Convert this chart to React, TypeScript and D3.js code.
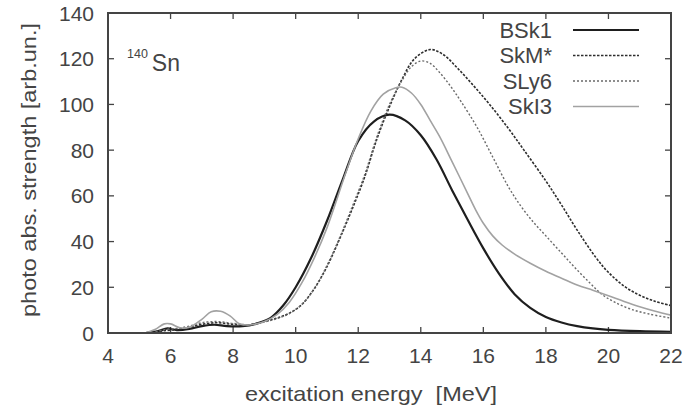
import React from "react";
import * as d3 from "d3";

// [excitation energy (MeV), strength (arb. un.)]
const bsk1: [number, number][] = [
  [5.2, 0], [5.6, 0.8], [5.9, 2.0], [6.2, 1.3], [6.6, 1.8], [7.0, 3.0], [7.4, 3.6],
  [7.8, 3.0], [8.3, 3.0], [8.8, 4.3], [9.2, 6.6], [9.6, 12], [10.0, 20], [10.5, 33],
  [11.0, 49], [11.5, 67], [12.0, 84], [12.5, 92.5], [13.0, 95.5], [13.5, 93],
  [14.0, 86.5], [14.5, 76], [15.0, 62.5], [15.5, 49.5], [16.0, 37], [16.5, 26],
  [17.0, 17], [17.5, 11], [18.0, 7], [18.5, 4.6], [19.0, 3.0], [19.5, 2.0],
  [20.0, 1.4], [21.0, 0.8], [22.0, 0.5],
];

const skmStar: [number, number][] = [
  [5.4, 0], [5.8, 1.0], [6.2, 1.5], [6.6, 2.5], [7.0, 3.8], [7.5, 4.5], [8.0, 3.8],
  [8.5, 3.5], [9.0, 5], [9.4, 6.5], [9.8, 8.7], [10.2, 12.5], [10.6, 19.5],
  [11.0, 29], [11.4, 41], [11.8, 54], [12.2, 68], [12.6, 85], [13.0, 99],
  [13.4, 111], [13.8, 120], [14.3, 124], [14.7, 122], [15.2, 115.5], [15.7, 108],
  [16.2, 100], [16.8, 89.5], [17.3, 80], [18.0, 66.5], [18.5, 56], [19.0, 45],
  [19.6, 33], [20.0, 26.5], [20.5, 20.5], [21.0, 16.5], [21.5, 13.8], [22.0, 12],
];

const sly6: [number, number][] = [
  [5.4, 0], [5.8, 1.5], [6.2, 2], [6.6, 3], [7.0, 4.5], [7.5, 5], [8.0, 4.2],
  [8.5, 3.6], [9.0, 4.8], [9.4, 6.3], [9.8, 8.5], [10.2, 12.5], [10.6, 19.5],
  [11.0, 29.5], [11.4, 41.5], [11.8, 55], [12.2, 69], [12.6, 86], [13.0, 100],
  [13.4, 110.5], [13.7, 116.5], [14.0, 119], [14.3, 118], [14.6, 114],
  [14.95, 108], [15.3, 101], [15.8, 90], [16.3, 77], [16.8, 64], [17.2, 55.5],
  [17.6, 48.5], [18.0, 42.5], [18.5, 35], [18.9, 29], [19.4, 22], [19.8, 16.8],
  [20.2, 13.5], [20.7, 10.5], [21.3, 8.3], [22.0, 6.5],
];

const ski3: [number, number][] = [
  [5.2, 0], [5.5, 1.5], [5.8, 4.0], [6.0, 4.0], [6.3, 2.3], [6.6, 2.5], [7.0, 6],
  [7.3, 9.3], [7.6, 9.5], [7.9, 7.5], [8.2, 4.0], [8.5, 3.5], [9.0, 5], [9.4, 8],
  [9.8, 13.5], [10.2, 22], [10.6, 33], [11.0, 46], [11.6, 70], [12.0, 85],
  [12.4, 97], [12.8, 104.5], [13.2, 107.3], [13.4, 107.5], [13.7, 105],
  [14.0, 100], [14.3, 93], [14.6, 86], [15.0, 75], [15.5, 61], [15.75, 54],
  [16.0, 48], [16.3, 42.5], [16.6, 38.5], [17.0, 34.5], [17.5, 30.5], [18.0, 27],
  [18.5, 24], [19.0, 21], [19.5, 18.7], [20.0, 16.3], [20.5, 13.8], [21.0, 11.5],
  [21.5, 9.5], [22.0, 7.8],
];

const xTicks = [4, 6, 8, 10, 12, 14, 16, 18, 20, 22];
const yTicks = [0, 20, 40, 60, 80, 100, 120, 140];

const series = [
  { name: "BSk1", data: bsk1, color: "#1e1e1e", width: 2.2, dash: "" },
  { name: "SkM*", data: skmStar, color: "#2e2e2e", width: 1.6, dash: "2.5,1.5" },
  { name: "SLy6", data: sly6, color: "#6a6a6a", width: 1.4, dash: "2,2" },
  { name: "SkI3", data: ski3, color: "#a2a2a2", width: 1.6, dash: "" },
];

const W = 698;
const H = 414;
const margin = { top: 13, right: 27, bottom: 81, left: 108 };

export default function App() {
  const x = d3.scaleLinear().domain([4, 22]).range([margin.left, W - margin.right]);
  const y = d3.scaleLinear().domain([0, 140]).range([H - margin.bottom, margin.top]);
  const line = d3
    .line<[number, number]>()
    .x((d) => x(d[0]))
    .y((d) => y(d[1]))
    .curve(d3.curveCatmullRom.alpha(0.5));

  const font = "'Liberation Sans', Arial, sans-serif";
  const x0 = x(4), x1 = x(22), y0 = y(0), y1 = y(140);
  const tick = 6;

  return (
    <>
      <style>{"body{margin:0}"}</style>
      <svg width={W} height={H} style={{ display: "block", background: "#fff" }} fontFamily={font}>
        <defs>
          <clipPath id="plot">
            <rect x={x0} y={y1} width={x1 - x0} height={y0 - y1} />
          </clipPath>
        </defs>

        {/* ticks on all four sides, pointing inward */}
        <g stroke="#444" strokeWidth={1.3}>
          {xTicks.map((t) => (
            <g key={"xt" + t}>
              <line x1={x(t)} x2={x(t)} y1={y0} y2={y0 - tick} />
              <line x1={x(t)} x2={x(t)} y1={y1} y2={y1 + tick} />
            </g>
          ))}
          {yTicks.map((t) => (
            <g key={"yt" + t}>
              <line x1={x0} x2={x0 + tick} y1={y(t)} y2={y(t)} />
              <line x1={x1} x2={x1 - tick} y1={y(t)} y2={y(t)} />
            </g>
          ))}
        </g>

        <g clipPath="url(#plot)" fill="none">
          {series.map((s) => (
            <path
              key={s.name}
              d={line(s.data) || ""}
              stroke={s.color}
              strokeWidth={s.width}
              strokeDasharray={s.dash || undefined}
            />
          ))}
        </g>

        <rect x={x0} y={y1} width={x1 - x0} height={y0 - y1} fill="none" stroke="#444" strokeWidth={2} />

        <g fill="#444" fontSize={21}>
          {xTicks.map((t) => (
            <text key={"xl" + t} x={x(t)} y={y0 + 30} textAnchor="middle">
              {t}
            </text>
          ))}
          {yTicks.map((t) => (
            <text key={"yl" + t} x={x0 - 14} y={y(t)} dy="0.36em" textAnchor="end">
              {t}
            </text>
          ))}
        </g>

        <text
          x={245}
          y={401}
          fontSize={21}
          fill="#444"
          textLength={252}
          lengthAdjust="spacingAndGlyphs"
        >
          excitation energy{"\u00a0\u00a0"}[MeV]
        </text>
        <text
          transform="translate(36,317) rotate(-90)"
          fontSize={20}
          fill="#444"
          textLength={294}
          lengthAdjust="spacingAndGlyphs"
        >
          photo abs. strength [arb.un.]
        </text>

        <text x={127} y={71} fill="#444">
          <tspan fontSize={12.5} dy={-13}>140</tspan>
          <tspan fontSize={23} dy={13} dx={4}>Sn</tspan>
        </text>

        {series.map((s, i) => {
          const ly = 30 + i * 25.5;
          return (
            <g key={"lg" + s.name}>
              <text x={552} y={ly} dy="0.36em" textAnchor="end" fontSize={22} fill="#444">
                {s.name}
              </text>
              <line
                x1={573}
                x2={639}
                y1={ly}
                y2={ly}
                stroke={s.color}
                strokeWidth={s.width}
                strokeDasharray={s.dash || undefined}
              />
            </g>
          );
        })}
      </svg>
    </>
  );
}
